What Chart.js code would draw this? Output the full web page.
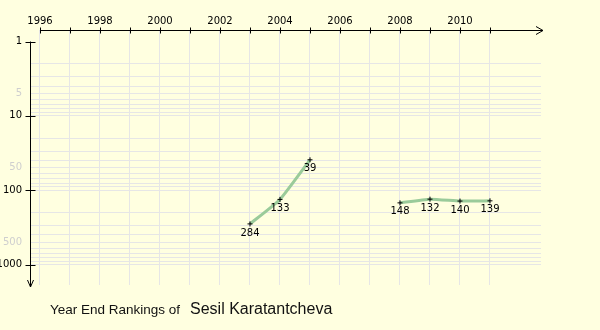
<!DOCTYPE html>
<html>
<head>
<meta charset="utf-8">
<script src="https://cdn.jsdelivr.net/npm/chart.js@4/dist/chart.umd.min.js"></script>
<style>
  html, body { margin: 0; padding: 0; background: #FFFFE0; }
  #wrap { position: relative; width: 600px; height: 330px; }
  canvas { position: absolute; left: 0; top: 0; }
  .t1 { position: absolute; left: 50px; top: 302px; font: 13.5px "Liberation Sans", Arial, sans-serif; line-height: 16px; color: #111; white-space: nowrap; }
  .t2 { position: absolute; left: 190px; top: 301px; font: 16px "Liberation Sans", Arial, sans-serif; line-height: 16px; color: #111; white-space: nowrap; }
</style>
</head>
<body>
<div id="wrap">
  <canvas id="c" width="600" height="330"></canvas>
  <div class="t1">Year End Rankings of</div>
  <div class="t2">Sesil Karatantcheva</div>
</div>
<script>
// ---- data ----
const years = [2003, 2004, 2005, 2006, 2007, 2008, 2009, 2010, 2011];
const rankings = [284, 133, 39, null, null, 148, 132, 140, 139];
const xTickYears = [1996, 1997, 1998, 1999, 2000, 2001, 2002, 2003, 2004, 2005, 2006, 2007, 2008, 2009, 2010, 2011];
const xLabelYears = [1996, 1998, 2000, 2002, 2004, 2006, 2008, 2010];
const yTickValues = [1, 2, 3, 4, 5, 6, 7, 8, 9, 10, 20, 30, 40, 50, 60, 70, 80, 90, 100, 200, 300, 400, 500, 600, 700, 800, 900, 1000];
const yMajorLabels = [1, 10, 100, 1000];
const yMinorLabels = [5, 50, 500];

const points = years.map((y, i) => ({ x: y, y: rankings[i] }));

const axisPlugin = {
  id: 'axisDeco',
  afterDraw(chart) {
    const ctx = chart.ctx;
    const xs = chart.scales.x, ys = chart.scales.y, ca = chart.chartArea;
    ctx.save();
    ctx.strokeStyle = '#000';
    ctx.lineWidth = 1;
    // X axis at top
    const ay = Math.round(ca.top) + 0.5;
    const x0 = xs.getPixelForValue(xTickYears[0]);
    const xEnd = ca.right + 2;
    ctx.beginPath();
    ctx.moveTo(x0, ay); ctx.lineTo(xEnd, ay);
    ctx.moveTo(xEnd - 7, ay - 4); ctx.lineTo(xEnd, ay); ctx.lineTo(xEnd - 7, ay + 4);
    xTickYears.forEach(v => {
      const px = Math.round(xs.getPixelForValue(v)) + 0.5;
      ctx.moveTo(px, ay - 3); ctx.lineTo(px, ay + 3);
    });
    ctx.stroke();
    // Y axis at left
    const ax = Math.round(ca.left) + 0.5;
    const y0 = ys.getPixelForValue(1);
    const yEnd = ca.bottom + 2;
    ctx.beginPath();
    ctx.moveTo(ax, y0); ctx.lineTo(ax, yEnd);
    ctx.moveTo(ax - 3, yEnd - 7); ctx.lineTo(ax, yEnd); ctx.lineTo(ax + 3, yEnd - 7);
    yMajorLabels.forEach(v => {
      const py = Math.round(ys.getPixelForValue(v)) + 0.5;
      ctx.moveTo(ax - 5, py); ctx.lineTo(ax + 5, py);
    });
    ctx.stroke();
    ctx.restore();
  },
  afterDatasetsDraw(chart) {
    const ctx = chart.ctx;
    const meta = chart.getDatasetMeta(0);
    ctx.save();
    ctx.font = '10px "DejaVu Sans", Verdana, sans-serif';
    ctx.fillStyle = '#000';
    ctx.textAlign = 'center';
    ctx.textBaseline = 'top';
    meta.data.forEach((el, i) => {
      const v = rankings[i];
      if (v === null || v === undefined) return;
      ctx.fillText(String(v), el.x, el.y + 4);
    });
    ctx.restore();
  }
};

new Chart(document.getElementById('c'), {
  type: 'line',
  data: {
    datasets: [{
      data: points,
      borderColor: '#9ACB9A',
      borderWidth: 3,
      tension: 0.15,
      spanGaps: false,
      pointStyle: 'cross',
      pointRadius: 2.5,
      pointBorderColor: '#000',
      pointBorderWidth: 1,
      pointBackgroundColor: '#000',
      pointHoverRadius: 2.5
    }]
  },
  options: {
    responsive: false,
    animation: false,
    events: [],
    layout: { padding: { left: 0, top: 0, right: 59, bottom: 45 } },
    plugins: { legend: { display: false }, tooltip: { enabled: false }, title: { display: false } },
    scales: {
      x: {
        type: 'linear',
        position: 'top',
        min: 1995.667,
        max: 2012.7,
        afterBuildTicks: s => { s.ticks = xTickYears.map(v => ({ value: v })); },
        afterFit: s => { s.height = 30; },
        border: { display: false },
        grid: { color: '#E6E6E6', drawTicks: false, lineWidth: 1 },
        ticks: {
          autoSkip: false,
          maxRotation: 0,
          padding: 3,
          color: '#000',
          font: { family: '"DejaVu Sans", Verdana, sans-serif', size: 10 },
          callback: v => xLabelYears.includes(v) ? String(v) : ''
        }
      },
      y: {
        type: 'logarithmic',
        reverse: true,
        min: 0.711,
        max: 1884,
        afterBuildTicks: s => { s.ticks = yTickValues.map(v => ({ value: v })); },
        afterFit: s => { s.width = 30; },
        border: { display: false },
        grid: {
          drawTicks: false,
          lineWidth: 1,
          color: c => (c.tick && c.tick.value === 1) ? 'rgba(0,0,0,0)' : '#E6E6E6'
        },
        ticks: {
          autoSkip: false,
          padding: 8,
          font: { family: '"DejaVu Sans", Verdana, sans-serif', size: 10 },
          color: c => (c.tick && yMinorLabels.includes(c.tick.value)) ? '#CFCFCF' : '#000',
          callback: v => (yMajorLabels.includes(v) || yMinorLabels.includes(v)) ? String(v) : ''
        }
      }
    }
  },
  plugins: [axisPlugin]
});
</script>
</body>
</html>
